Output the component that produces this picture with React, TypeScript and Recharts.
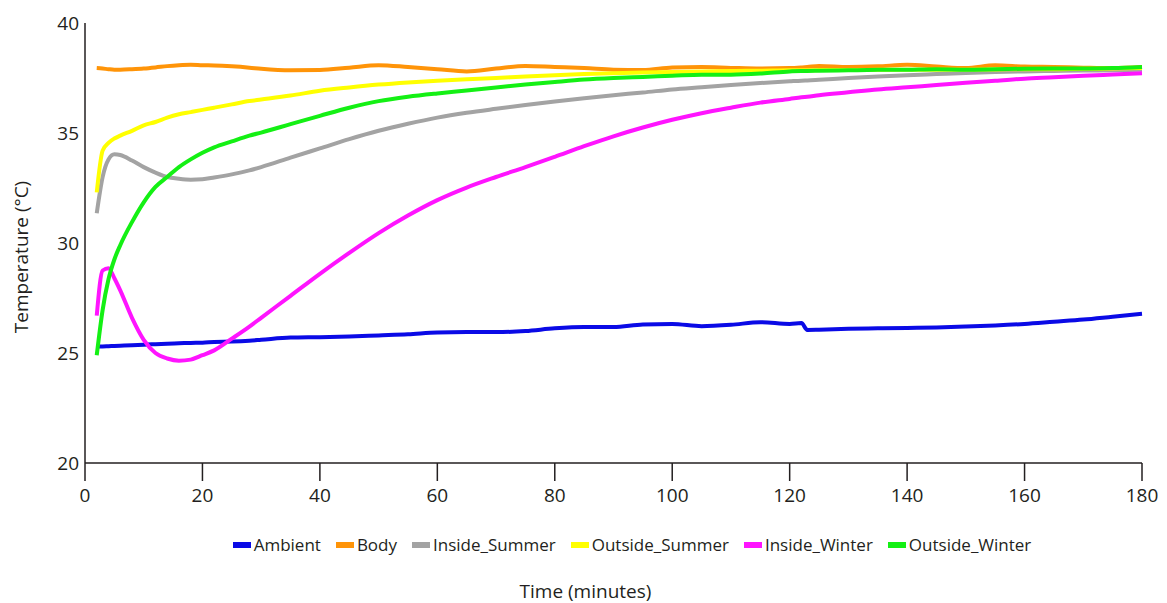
import { CartesianGrid, Legend, Line, LineChart, XAxis, YAxis } from "recharts";

// time in minutes
const times = [
  2, 3, 4, 5, 6, 8, 10, 12, 14, 16, 18, 20, 22, 25, 28, 30, 35, 40, 45, 50, 55,
  60, 65, 70, 75, 80, 85, 90, 95, 100, 105, 110, 115, 120, 122, 123, 125, 130,
  135, 140, 145, 150, 155, 160, 165, 170, 175, 180,
];

const ambient = [
  25.3, 25.3, 25.31, 25.32, 25.33, 25.35, 25.38, 25.4, 25.42, 25.44, 25.46,
  25.47, 25.5, 25.52, 25.56, 25.6, 25.7, 25.72, 25.75, 25.8, 25.85, 25.93,
  25.95, 25.95, 26.0, 26.12, 26.18, 26.18, 26.3, 26.32, 26.22, 26.28, 26.4,
  26.32, 26.36, 26.05, 26.06, 26.1, 26.12, 26.14, 26.16, 26.2, 26.25, 26.32,
  26.42, 26.52, 26.65, 26.78,
];

const body = [
  37.95, 37.93, 37.9, 37.88, 37.88, 37.9, 37.93, 37.98, 38.04, 38.08, 38.1,
  38.08, 38.07, 38.03, 37.97, 37.92, 37.85, 37.86, 37.97, 38.08, 38.0, 37.9,
  37.8, 37.93, 38.05, 38.0, 37.95, 37.88, 37.86, 37.98, 38.0, 37.96, 37.93,
  37.95, 37.98, 38.0, 38.05, 38.0, 38.03, 38.1, 38.02, 37.95, 38.08, 38.02,
  38.0, 37.97, 37.95, 38.0,
];

const insideSummer = [
  31.35, 33.0, 33.8, 34.03, 34.0, 33.75, 33.45, 33.2, 33.0, 32.92, 32.88, 32.9,
  32.98, 33.12, 33.3, 33.45, 33.88, 34.3, 34.72, 35.1, 35.42, 35.7, 35.92,
  36.1, 36.27, 36.43, 36.58, 36.72, 36.84, 36.98, 37.08, 37.18, 37.27, 37.35,
  37.38, 37.39, 37.42, 37.5, 37.57, 37.63, 37.68, 37.73, 37.77, 37.8, 37.82,
  37.84, 37.85, 37.87,
];

const outsideSummer = [
  32.3, 34.2, 34.55, 34.75, 34.88, 35.1, 35.35, 35.5, 35.7, 35.85, 35.95,
  36.05, 36.15, 36.3, 36.45, 36.52, 36.7, 36.92, 37.07, 37.2, 37.3, 37.38,
  37.44, 37.5, 37.57, 37.63, 37.68, 37.72, 37.75, 37.77, 37.8, 37.82, 37.83,
  37.85, 37.85, 37.85, 37.86, 37.86, 37.87, 37.88, 37.88, 37.88, 37.89, 37.9,
  37.9, 37.92, 37.93, 37.95,
];

const insideWinter = [
  26.7, 28.75, 28.85, 28.4, 27.85, 26.6, 25.6, 25.0, 24.75, 24.65, 24.7, 24.9,
  25.12, 25.65, 26.2, 26.6, 27.6, 28.6, 29.55, 30.45, 31.25, 31.95, 32.52,
  33.0, 33.45, 33.92, 34.4, 34.85, 35.25, 35.6, 35.9, 36.15, 36.38, 36.55,
  36.62, 36.65, 36.72, 36.85, 36.98, 37.08, 37.18, 37.28, 37.37, 37.47, 37.53,
  37.6, 37.66, 37.72,
];

const outsideWinter = [
  24.9, 26.95, 28.35, 29.25, 29.9, 30.95, 31.85, 32.55, 33.0, 33.45, 33.8,
  34.1, 34.35, 34.62, 34.88, 35.02, 35.4, 35.78, 36.15, 36.45, 36.65, 36.8,
  36.93, 37.07, 37.2, 37.32, 37.43, 37.5, 37.55, 37.6, 37.65, 37.65, 37.7,
  37.8, 37.82, 37.82, 37.83, 37.85, 37.87, 37.88, 37.9, 37.88, 37.9, 37.92,
  37.93, 37.93, 37.95, 38.0,
];

const xTicks = [0, 20, 40, 60, 80, 100, 120, 140, 160, 180];
const yTicks = [20, 25, 30, 35, 40];

const data = times.map((t, i) => ({
  t,
  Ambient: ambient[i],
  Body: body[i],
  Inside_Summer: insideSummer[i],
  Outside_Summer: outsideSummer[i],
  Inside_Winter: insideWinter[i],
  Outside_Winter: outsideWinter[i],
}));

const series = [
  { key: "Ambient", color: "#0a0ae6" },
  { key: "Body", color: "#ff9408" },
  { key: "Inside_Summer", color: "#a3a3a3" },
  { key: "Outside_Summer", color: "#ffff00" },
  { key: "Inside_Winter", color: "#ff14ff" },
  { key: "Outside_Winter", color: "#14f014" },
];

const FONT = "'Open Sans', sans-serif";
const TEXT = "#231f20";

// own legend so the order stays as in the series list (recharts sorts by name)
const renderLegend = () => (
  <div
    style={{
      display: "flex",
      justifyContent: "center",
      gap: 15,
      paddingLeft: 98,
      fontFamily: FONT,
      fontSize: 17,
      color: TEXT,
    }}
  >
    {series.map((s) => (
      <div key={s.key} style={{ display: "flex", alignItems: "center" }}>
        <span
          style={{
            display: "inline-block",
            width: 18,
            height: 6,
            background: s.color,
            marginRight: 3,
          }}
        />
        <span>{s.key}</span>
      </div>
    ))}
  </div>
);

const YTitle = (props: any) => {
  const { viewBox } = props;
  const cx = 13;
  const cy = viewBox.y + viewBox.height / 2 + 14;
  return (
    <text
      x={cx}
      y={cy}
      transform={`rotate(-90, ${cx}, ${cy})`}
      textAnchor="middle"
      dominantBaseline="central"
      fontFamily={FONT}
      fontSize={19}
      fill={TEXT}
    >
      Temperature (°C)
    </text>
  );
};

const XTitle = (props: any) => {
  const { viewBox } = props;
  const cx = viewBox.x + viewBox.width / 2 - 28;
  return (
    <text
      x={cx}
      y={583}
      textAnchor="middle"
      dominantBaseline="central"
      fontFamily={FONT}
      fontSize={19}
      fill={TEXT}
    >
      Time (minutes)
    </text>
  );
};

export default function App() {
  return (
    <LineChart
      width={1150}
      height={595}
      data={data}
      margin={{ top: 15, right: 16, bottom: 0, left: 1 }}
    >
      <CartesianGrid stroke="none" />
      <XAxis
        dataKey="t"
        type="number"
        domain={[0, 180]}
        ticks={xTicks}
        interval={0}
        height={140}
        tickSize={18}
        tickMargin={8}
        axisLine={{ stroke: "#231f20", strokeWidth: 1.5 }}
        tickLine={{ stroke: "#231f20", strokeWidth: 1.5 }}
        tick={{ fontSize: 19, fontFamily: FONT, fill: TEXT }}
        label={<XTitle />}
      />
      <YAxis
        type="number"
        domain={[20, 40]}
        ticks={yTicks}
        interval={0}
        width={76}
        tickLine={false}
        tickSize={0}
        tickMargin={6}
        axisLine={{ stroke: "#231f20", strokeWidth: 1.5 }}
        tick={{ fontSize: 19, fontFamily: FONT, fill: TEXT }}
        label={<YTitle />}
      />
      <Legend
        verticalAlign="middle"
        align="center"
        layout="horizontal"
        wrapperStyle={{ top: 525, left: 0, width: 1150 }}
        content={renderLegend}
      />
      {series.map((s) => (
        <Line
          key={s.key}
          type="monotone"
          dataKey={s.key}
          name={s.key}
          stroke={s.color}
          strokeWidth={4}
          dot={false}
          isAnimationActive={false}
        />
      ))}
    </LineChart>
  );
}
